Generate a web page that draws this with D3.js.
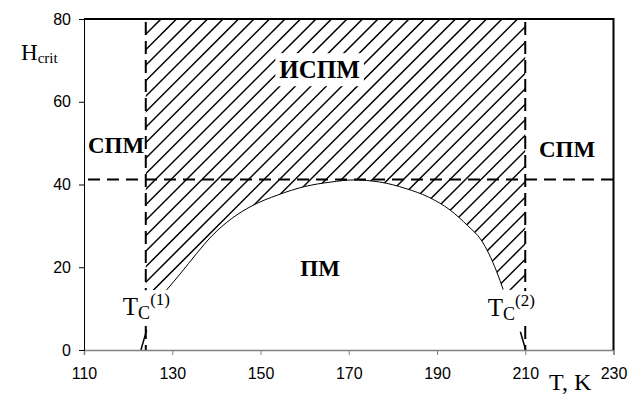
<!DOCTYPE html>
<html>
<head>
<meta charset="utf-8">
<script src="https://cdn.jsdelivr.net/npm/d3@7"></script>
<style>
  body { margin: 0; background: #fff; }
  svg { display: block; }
</style>
</head>
<body>
<div id="container"></div>
<script>
/* DATA */
const xTicks = [110, 130, 150, 170, 190, 210, 230];
const yTicks = [0, 20, 40, 60, 80];

// boundary curve between ПМ and ИСПМ (T in K, H)
const curveT = [128.7, 131.8, 135.5, 139, 143.5, 148, 154, 160, 166, 171, 177, 183, 188, 193, 197, 200, 203.5, 205];
const curveH = [14.5, 18.4, 23.3, 27.6, 31.8, 34.8, 37.5, 39.5, 40.6, 41.1, 40.6, 39, 37, 33.8, 30, 26.6, 19, 14.6];

const tc1 = 124, tc2 = 210;   // dashed verticals
const hCrit = 41.2;           // dashed horizontal
const hatchBottom = 14.5;
const stubLeft = [[122.9, 0], [124.2, 4.8]];
const stubRight = [[208.9, 4.4], [210.1, 0]];

/* CONSTANTS */
const width = 631, height = 394,
  margin = { top: 19, bottom: 44, left: 84, right: 17.5 };
const serif = "'Liberation Serif', 'Times New Roman', serif";
const sans = "'Liberation Sans', Arial, sans-serif";

/* SCALES */
const x = d3.scaleLinear().domain([110, 230]).range([margin.left, width - margin.right]);
const y = d3.scaleLinear().domain([0, 80]).range([height - margin.bottom, margin.top]);

const svg = d3.select("#container").append("svg")
  .attr("width", width).attr("height", height);

/* HATCHED REGION */
const curvePts = curveT.map((t, i) => [t, curveH[i]]);
const line = d3.line().x(d => x(d[0])).y(d => y(d[1]));
const smooth = d3.line().x(d => x(d[0])).y(d => y(d[1])).curve(d3.curveMonotoneX);

const backPath = smooth(curvePts.slice().reverse()).replace(/^M/, "L");
const regionPath = `M${x(tc1)},${y(80)}L${x(tc2)},${y(80)}L${x(tc2)},${y(hatchBottom)}` +
  backPath + `L${x(tc1)},${y(hatchBottom)}Z`;

svg.append("clipPath").attr("id", "hatchClip")
  .append("path").attr("d", regionPath);

const hatch = svg.append("g").attr("clip-path", "url(#hatchClip)");
const step = 15.5;
hatch.selectAll("line")
  .data(d3.range(-400, 1000, step))
  .join("line")
  .attr("x1", d => d).attr("y1", height)
  .attr("x2", d => d + height).attr("y2", 0)
  .attr("stroke", "#000").attr("stroke-width", 1.5);

// curve
svg.append("path")
  .attr("d", smooth(curvePts))
  .attr("fill", "none").attr("stroke", "#000").attr("stroke-width", 1);

[stubLeft, stubRight].forEach(s => {
  svg.append("path").attr("d", line(s))
    .attr("fill", "none").attr("stroke", "#000").attr("stroke-width", 1.5);
});

/* DASHED LINES */
svg.append("line")
  .attr("x1", x(110) + 4).attr("x2", x(230))
  .attr("y1", y(hCrit)).attr("y2", y(hCrit))
  .attr("stroke", "#000").attr("stroke-width", 2).attr("stroke-dasharray", "12,7");

[tc1, tc2].forEach(t => {
  svg.append("line")
    .attr("x1", x(t)).attr("x2", x(t))
    .attr("y1", y(80) + 3).attr("y2", y(0))
    .attr("stroke", "#000").attr("stroke-width", 2).attr("stroke-dasharray", "13,6");
});

/* AXES */
const xAxis = d3.axisBottom(x).tickValues(xTicks).tickSize(5).tickPadding(13);
svg.append("g")
  .attr("transform", `translate(0,${y(0)})`)
  .call(xAxis)
  .call(g => g.select(".domain").attr("stroke", "#808080").attr("stroke-width", 1.5))
  .call(g => g.selectAll(".tick line").attr("stroke", "#808080"))
  .call(g => g.selectAll("text").attr("font-family", sans).attr("font-size", 16).attr("fill", "#000"));

const yAxis = d3.axisLeft(y).tickValues(yTicks).tickSize(5).tickPadding(8);
svg.append("g")
  .attr("transform", `translate(${x(110)},0)`)
  .call(yAxis)
  .call(g => g.select(".domain").attr("stroke", "#000").attr("stroke-width", 1))
  .call(g => g.selectAll("text").attr("font-family", sans).attr("font-size", 16).attr("fill", "#000"));

// frame top and right
svg.append("path")
  .attr("d", `M${x(110)},${y(80)}H${x(230)}V${y(0)}`)
  .attr("fill", "none").attr("stroke", "#000").attr("stroke-width", 2);

/* LABELS */
function whiteBox(el, padX, padY) {
  const b = el.node().getBBox();
  svg.insert("rect", () => el.node())
    .attr("x", b.x - padX).attr("y", b.y - padY)
    .attr("width", b.width + 2 * padX).attr("height", b.height + 2 * padY)
    .attr("fill", "#fff");
}

function label(t, h, txt, size, anchor, box) {
  const el = svg.append("text")
    .attr("x", x(t)).attr("y", y(h))
    .attr("font-family", serif).attr("font-weight", "bold")
    .attr("font-size", size).attr("text-anchor", anchor)
    .text(txt);
  if (box) whiteBox(el, 4, 3);
  return el;
}
label(110.9, 47.6, "СПМ", 23, "start", false);
label(213.1, 46.6, "СПМ", 23, "start", false);
label(163.4, 65.7, "ИСПМ", 25, "middle", true);
label(163.5, 17.9, "ПМ", 23, "middle", false);

function tcLabel(t, h, n) {
  const el = svg.append("text")
    .attr("x", x(t)).attr("y", y(h))
    .attr("font-family", serif).attr("font-size", 25);
  el.append("tspan").text("T");
  el.append("tspan").attr("font-size", 18).attr("dy", 4).text("C");
  el.append("tspan").attr("font-size", 17).attr("dy", -14).text(`(${n})`);
  whiteBox(el, 1, 0);
}
tcLabel(118.8, 8.4, 1);
tcLabel(201.5, 8.2, 2);

// axis titles
const yt = svg.append("text").attr("x", 21).attr("y", 60)
  .attr("font-family", serif).attr("font-size", 23);
yt.append("tspan").text("H");
yt.append("tspan").attr("font-size", 15).attr("dy", 3).text("crit");

svg.append("text").attr("x", 549).attr("y", 390)
  .attr("font-family", serif).attr("font-size", 24)
  .text("T, K");
</script>
</body>
</html>
